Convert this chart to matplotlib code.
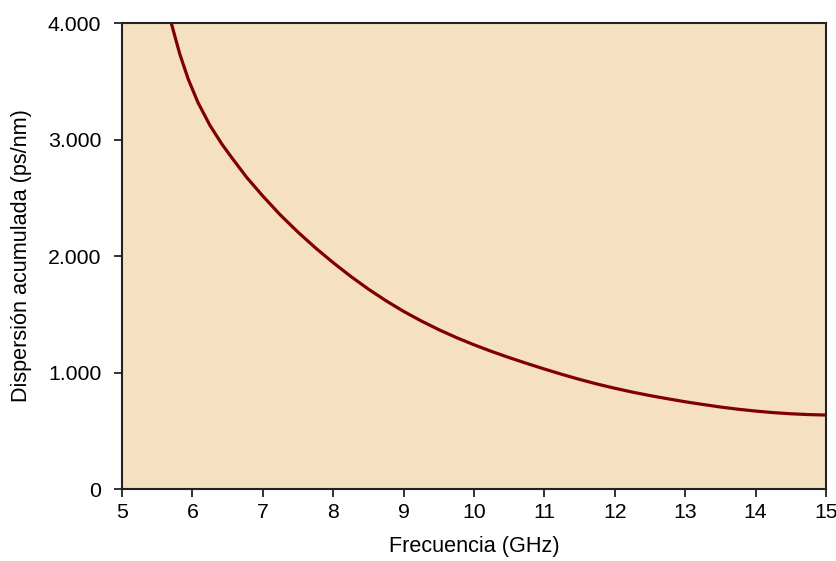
import matplotlib
matplotlib.use("Agg")
import matplotlib.pyplot as plt
from matplotlib.ticker import FuncFormatter

plt.rcParams['font.family'] = ['Liberation Sans', 'DejaVu Sans']

freq_ghz = [5.70, 5.82, 5.94, 6.08, 6.25, 6.42, 6.56, 6.77, 7.0, 7.25, 7.5, 7.75, 8.0,
            8.25, 8.5, 8.75, 9.0, 9.25, 9.5, 9.75, 10.0, 10.25, 10.5, 10.75, 11.0, 11.25,
            11.5, 11.75, 12.0, 12.25, 12.5, 12.75, 13.0, 13.25, 13.5, 13.75, 14.0, 14.25,
            14.5, 14.75, 15.0]
dispersion = [4000, 3736, 3520, 3317, 3121, 2960, 2844, 2676, 2515, 2352, 2205, 2069, 1943,
              1825, 1716, 1616, 1525, 1443, 1368, 1300, 1238, 1181, 1128, 1078, 1030, 984,
              941, 901, 865, 832, 802, 775, 749, 726, 704, 685, 669, 656,
              646, 639, 635]

x_ticks = [5, 6, 7, 8, 9, 10, 11, 12, 13, 14, 15]
y_ticks = [0, 1000, 2000, 3000, 4000]

fig = plt.figure(figsize=(8.36, 5.61), dpi=100)
ax = fig.add_axes([0.1459, 0.1283, 0.988 - 0.1459, 0.959 - 0.1283])
ax.set_facecolor('#F5E1C1')
ax.plot(freq_ghz, dispersion, color='#800000', lw=2.3, solid_capstyle='butt',
        solid_joinstyle='round')
ax.set_xlim(5, 15)
ax.set_ylim(0, 4000)
ax.set_xticks(x_ticks)
ax.set_yticks(y_ticks)
ax.yaxis.set_major_formatter(FuncFormatter(lambda v, p: f"{int(v):,}".replace(",", ".")))
for s in ax.spines.values():
    s.set_color('#222222')
    s.set_linewidth(1.5)
ax.tick_params(direction='out', length=6, width=1.3, color='#222222', labelsize=15.3)
ax.tick_params(axis='x', pad=4)
ax.tick_params(axis='y', pad=9)
ax.set_xlabel('Frecuencia (GHz)', fontsize=15.6, labelpad=10)
ax.set_ylabel('Dispersión acumulada (ps/nm)', fontsize=15.6, labelpad=11)
fig.savefig('out.png', dpi=100)
